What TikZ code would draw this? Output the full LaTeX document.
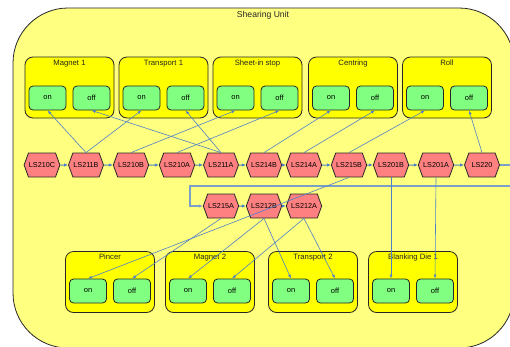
\documentclass[tikz,border=0pt]{standalone}
\usepackage{fontspec}
\setmainfont{Liberation Sans}
\usetikzlibrary{arrows.meta}
\usetikzlibrary{shapes.symbols}
\usetikzlibrary{positioning}

\definecolor{unitbg}{RGB}{255,255,128}
\definecolor{grpbg}{RGB}{255,255,0}
\definecolor{btnbg}{RGB}{128,255,128}
\definecolor{lsbg}{RGB}{255,128,128}
\definecolor{linkc}{RGB}{79,129,200}
\definecolor{backc}{RGB}{125,160,200}

\tikzset{
	grpbox/.style={draw=black!85, fill=grpbg, rounded corners=8pt, minimum width=89pt, minimum height=61pt, line width=0.8pt},
	grptitle/.style={inner sep=1pt, font=\fontsize{7.7}{9}\selectfont, text=black!85},
	btnbox/.style={draw=black!85, fill=btnbg, rounded corners=4pt, minimum width=37pt, minimum height=24pt, line width=0.8pt, font=\fontsize{7.5}{9}\selectfont},
	lsnode/.style={signal, signal to=east and west, signal pointer angle=140, draw=black!85, fill=lsbg, minimum width=35pt, minimum height=24pt, inner xsep=0.5pt, line width=0.8pt, font=\fontsize{7.2}{9}\selectfont},
	flow/.style={linkc, line width=1pt, -{Latex[length=4pt,width=3.5pt]}},
	wire/.style={linkc, line width=0.6pt, -{Latex[length=4pt,width=3pt]}},
	feedback/.style={backc, line width=1.4pt, -{Latex[length=4pt,width=3.5pt]}}
}

\begin{document}
\begin{tikzpicture}[x=1pt,y=-1pt]
	\useasboundingbox (0,0) rectangle (510,346);
	% whole unit
	\draw[draw=black!85, fill=unitbg, line width=0.8pt, rounded corners=55pt] (13,8) rectangle (514,348);
	\node[grptitle, font=\fontsize{8.6}{10}\selectfont] (unit) at (263,15) {Shearing Unit};
	
	% actuator groups, top row
	\foreach \g/\x/\t in {mag1/69.5/Magnet 1, tra1/163.5/Transport 1, stop/257.5/Sheet-in stop, cen/353/Centring, roll/447/Roll}{
		\node[grpbox] (\g) at (\x,87.5) {};
		\node[grptitle, below=2pt of \g.north] {\t};
		\node[btnbox] (\g-on) at (\x-22,98) {on};
		\node[btnbox] (\g-off) at (\x+22,98) {off};
	}
	% actuator groups, bottom row
	\foreach \g/\x/\t in {pin/110/Pincer, mag2/210/Magnet 2, tra2/313/Transport 2, die/413/Blanking Die 1}{
		\node[grpbox] (\g) at (\x,282) {};
		\node[grptitle, below=2pt of \g.north] {\t};
		\node[btnbox] (\g-on) at (\x-22,291) {on};
		\node[btnbox] (\g-off) at (\x+22,291) {off};
	}
	
	% limit switches
	\foreach \n/\x in {LS210C/42, LS211B/86, LS210B/131, LS210A/177, LS211A/221, LS214B/264, LS214A/304, LS215B/349, LS201B/391, LS201A/436, LS220/482}
		\node[lsnode] (\n) at (\x,165) {\n};
	\foreach \n/\x in {LS215A/221, LS212B/264, LS212A/304}
		\node[lsnode] (\n) at (\x,206) {\n};
	
	% sequence
	\foreach \a/\b in {LS210C/LS211B, LS211B/LS210B, LS210B/LS210A, LS210A/LS211A, LS211A/LS214B, LS214B/LS214A, LS214A/LS215B, LS215B/LS201B, LS201B/LS201A, LS201A/LS220, LS215A/LS212B, LS212B/LS212A}
		\draw[flow] (\a) -- (\b);
	\coordinate (back) at (190,186);
	\draw[feedback] (LS220.east) -- ++(30,0) |- (back) |- (LS215A.west);
	
	% switches to actuators
	\draw[wire] (LS211B.north) -- (mag1-on.south);
	\draw[wire] (LS211B.north) -- (tra1-on.south);
	\draw[wire] (LS211A.north) -- (mag1-off.south);
	\draw[wire] (LS211A.north) -- (tra1-off.south);
	\draw[wire] (LS210B.north) -- (stop-on.south);
	\draw[wire] (LS210A.north) -- (stop-off.south);
	\draw[wire] (LS214B.north) -- (cen-on.south);
	\draw[wire] (LS214A.north) -- (cen-off.south);
	\draw[wire] (LS215B.north) -- (roll-on.south);
	\draw[wire] (LS220.north) -- (roll-off.south);
	
	\draw[wire] (LS215B.south) -- (pin-on.north);
	\draw[wire] (LS215A.south) -- (pin-off.north);
	\draw[wire] (LS212B.south) -- (mag2-on.north);
	\draw[wire] (LS212A.south) -- (mag2-off.north);
	\draw[wire] (LS212B.south) -- (tra2-on.north);
	\draw[wire] (LS212A.south) -- (tra2-off.north);
	\draw[wire] (LS201B.south) -- (die-on.north);
	\draw[wire] (LS201A.south) -- (die-off.north);
\end{tikzpicture}
\end{document}
